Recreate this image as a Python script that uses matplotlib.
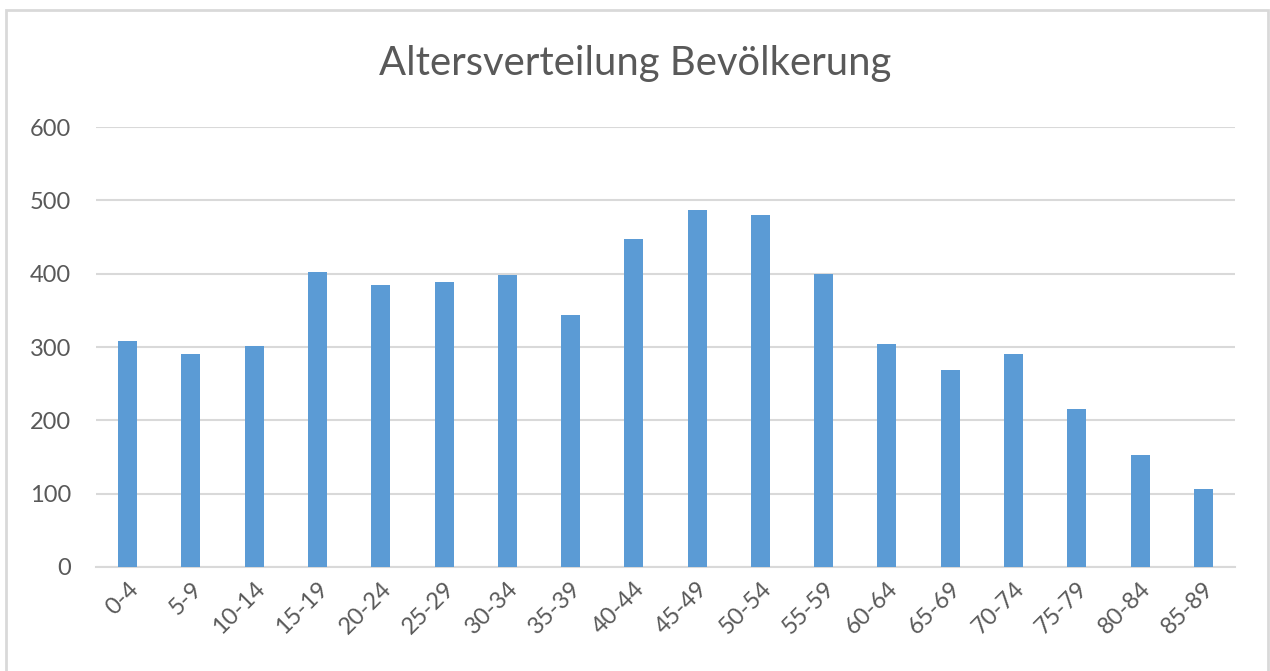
import matplotlib.pyplot as plt
from matplotlib.patches import Rectangle

# Age groups and population counts
age_groups = ['0-4', '5-9', '10-14', '15-19', '20-24', '25-29', '30-34', '35-39', '40-44',
              '45-49', '50-54', '55-59', '60-64', '65-69', '70-74', '75-79', '80-84', '85-89']
population = [308, 290, 301, 402, 385, 389, 398, 344, 447,
              487, 480, 400, 304, 269, 290, 215, 153, 106]
y_ticks = [0, 100, 200, 300, 400, 500, 600]

plt.rcParams['font.family'] = ['Lato', 'DejaVu Sans']
text_color = '#595959'

fig = plt.figure(figsize=(12.7, 6.71), dpi=100)
ax = fig.add_axes([0.0756, 0.155, 0.8968, 0.6557])

ax.bar(range(len(age_groups)), population, width=0.3, color='#5b9bd5', zorder=3)

ax.set_xlim(-0.5, len(age_groups) - 0.5)
ax.set_ylim(0, 600)
ax.set_yticks(y_ticks)
ax.set_xticks(range(len(age_groups)))
ax.set_xticklabels(age_groups, rotation=45, ha='right', rotation_mode='anchor')
ax.tick_params(axis='both', length=0, labelsize=17, labelcolor=text_color)
ax.tick_params(axis='y', pad=18)
ax.tick_params(axis='x', pad=8)

ax.grid(axis='y', color='#d9d9d9', linewidth=1.5, zorder=0)
for side in ['top', 'right', 'left']:
    ax.spines[side].set_visible(False)
ax.spines['bottom'].set_color('#d9d9d9')
ax.spines['bottom'].set_linewidth(1.5)

fig.text(0.5, 0.905, 'Altersverteilung Bevölkerung', ha='center', va='center',
         fontsize=28.8, color=text_color)

# light frame around the chart
fig.patches.append(Rectangle((6 / 1270, -0.05), 1262 / 1270, 1 - 10 / 671 + 0.05,
                             transform=fig.transFigure, fill=False,
                             edgecolor='#d9d9d9', linewidth=2))

fig.savefig('out.png', dpi=100)
